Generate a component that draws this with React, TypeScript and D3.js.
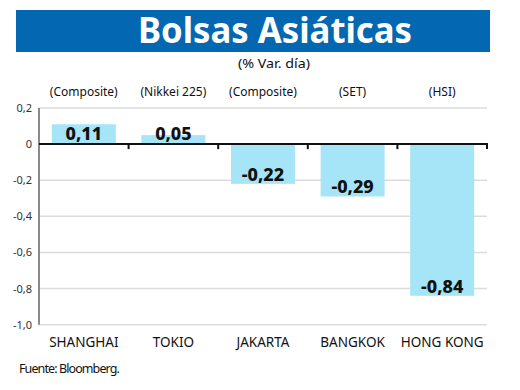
import { useRef, useEffect } from 'react';
import * as d3 from 'd3';

const categories = ['SHANGHAI', 'TOKIO', 'JAKARTA', 'BANGKOK', 'HONG KONG'];
const indices = ['(Composite)', '(Nikkei 225)', '(Composite)', '(SET)', '(HSI)'];
const values = [0.11, 0.05, -0.22, -0.29, -0.84];
const yTicks = [0.2, 0, -0.2, -0.4, -0.6, -0.8, -1.0];

const fmt = (v: number) => (v === 0 ? '0' : v.toFixed(2).replace('.', ','));
const tickFmt = (v: number) => (v === 0 ? '0' : v.toFixed(1).replace('.', ','));

export default function App() {
  const svgRef = useRef<SVGSVGElement>(null);

  useEffect(() => {
    const svg = d3.select(svgRef.current);
    svg.selectAll('*').remove();

    const width = 520;
    const left = 39;
    const right = 487;
    const top = 108;
    const bottom = 324.7;
    const sans = "'Noto Sans', 'Open Sans', sans-serif";

    svg.append('rect').attr('width', width).attr('height', 390).attr('fill', '#fff');

    // Title banner
    svg.append('rect')
      .attr('x', 16).attr('y', 10).attr('width', 474).attr('height', 42)
      .attr('fill', '#0467B1');
    svg.append('text')
      .attr('x', 275).attr('y', 43)
      .attr('text-anchor', 'middle')
      .attr('fill', '#fff')
      .attr('font-family', sans)
      .attr('font-weight', 700)
      .attr('font-size', '35px')
      .attr('textLength', 274)
      .attr('lengthAdjust', 'spacingAndGlyphs')
      .text('Bolsas Asiáticas');
    svg.append('text')
      .attr('x', 274).attr('y', 68)
      .attr('text-anchor', 'middle')
      .attr('fill', '#111')
      .attr('font-family', sans)
      .attr('font-size', '13px')
      .attr('textLength', 72)
      .attr('lengthAdjust', 'spacingAndGlyphs')
      .text('(% Var. día)');

    const x = d3.scaleBand<string>()
      .domain(categories)
      .range([left, right])
      .paddingInner(0.286)
      .paddingOuter(0.143);
    const y = d3.scaleLinear().domain([-1, 0.2]).range([bottom, top]);

    // Gridlines
    svg.append('g')
      .selectAll('line')
      .data(yTicks.filter((t) => t !== 0))
      .join('line')
      .attr('x1', left).attr('x2', right)
      .attr('y1', (d) => y(d)).attr('y2', (d) => y(d))
      .attr('stroke', '#dcdcdc')
      .attr('stroke-width', 1.5);

    // Y tick labels
    svg.append('g')
      .selectAll('text')
      .data(yTicks)
      .join('text')
      .attr('x', 32)
      .attr('y', (d) => y(d) + 4)
      .attr('text-anchor', 'end')
      .attr('fill', '#333')
      .attr('font-family', sans)
      .attr('font-size', '11px')
      .text((d) => tickFmt(d));

    // Bars
    svg.append('g')
      .selectAll('rect')
      .data(values)
      .join('rect')
      .attr('x', (_d, i) => x(categories[i])!)
      .attr('width', x.bandwidth())
      .attr('y', (d) => y(Math.max(0, d)))
      .attr('height', (d) => Math.abs(y(d) - y(0)))
      .attr('fill', '#A6E4F8');

    // Y axis line
    svg.append('line')
      .attr('x1', left).attr('x2', left)
      .attr('y1', top).attr('y2', bottom)
      .attr('stroke', '#8a8a8a')
      .attr('stroke-width', 2);

    // Zero line with tick marks
    svg.append('line')
      .attr('x1', left).attr('x2', right + 1)
      .attr('y1', y(0)).attr('y2', y(0))
      .attr('stroke', '#111')
      .attr('stroke-width', 2);
    const step = x.step();
    svg.append('g')
      .selectAll('line')
      .data(categories)
      .join('line')
      .attr('x1', (d) => x(d)! + x.bandwidth() + (step - x.bandwidth()) / 2)
      .attr('x2', (d) => x(d)! + x.bandwidth() + (step - x.bandwidth()) / 2)
      .attr('y1', y(0))
      .attr('y2', y(0) + 5)
      .attr('stroke', '#111')
      .attr('stroke-width', 2);

    // Value labels
    svg.append('g')
      .selectAll('text')
      .data(values)
      .join('text')
      .attr('x', (_d, i) => x(categories[i])! + x.bandwidth() / 2)
      .attr('y', (d) => (d >= 0 ? y(0) - 4 : y(d) - 3))
      .attr('text-anchor', 'middle')
      .attr('fill', '#111')
      .attr('font-family', sans)
      .attr('font-weight', 800)
      .attr('font-size', '18px')
      .text((d) => fmt(d));

    // Index labels (top)
    svg.append('g')
      .selectAll('text')
      .data(indices)
      .join('text')
      .attr('x', (_d, i) => x(categories[i])! + x.bandwidth() / 2)
      .attr('y', 96)
      .attr('text-anchor', 'middle')
      .attr('fill', '#111')
      .attr('font-family', sans)
      .attr('font-size', '12px')
      .text((d) => d);

    // Category labels
    svg.append('g')
      .selectAll('text')
      .data(categories)
      .join('text')
      .attr('x', (d) => x(d)! + x.bandwidth() / 2)
      .attr('y', 347)
      .attr('text-anchor', 'middle')
      .attr('fill', '#111')
      .attr('font-family', sans)
      .attr('font-size', '13.5px')
      .text((d) => d);

    svg.append('text')
      .attr('x', 19).attr('y', 373)
      .attr('fill', '#111')
      .attr('font-family', sans)
      .attr('font-size', '12.5px')
      .attr('letter-spacing', '-0.9px')
      .text('Fuente: Bloomberg.');
  }, []);

  return (
    <svg
      ref={svgRef}
      width={520}
      height={390}
      viewBox="0 0 520 390"
      style={{ position: 'absolute', left: 0, top: 0, display: 'block' }}
    />
  );
}
